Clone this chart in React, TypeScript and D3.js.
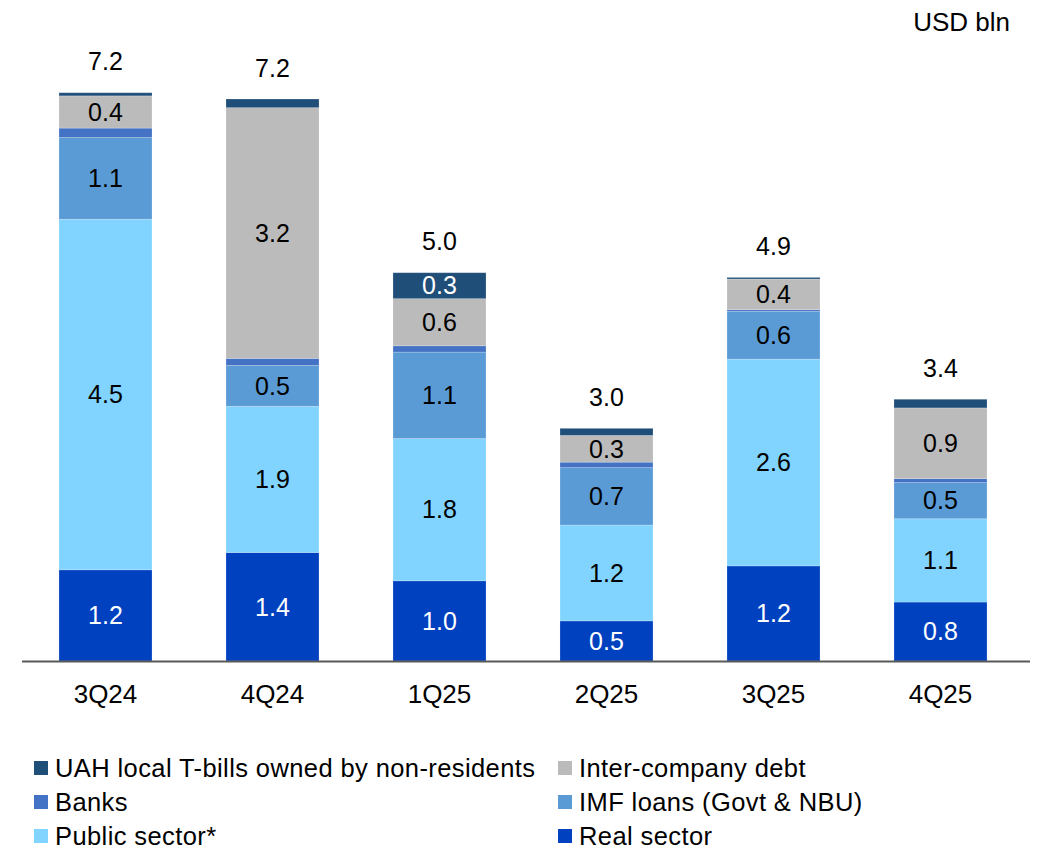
import React from "react";
import * as d3 from "d3";

const categories = ["3Q24", "4Q24", "1Q25", "2Q25", "3Q25", "4Q25"];

const realSector = [1.16, 1.38, 1.02, 0.51, 1.21, 0.75];
const publicSector = [4.46, 1.86, 1.81, 1.22, 2.63, 1.06];
const imfLoans = [1.04, 0.52, 1.1, 0.73, 0.61, 0.46];
const banks = [0.12, 0.09, 0.08, 0.07, 0.02, 0.05];
const interCompany = [0.41, 3.19, 0.6, 0.34, 0.39, 0.9];
const uahTbills = [0.04, 0.11, 0.33, 0.09, 0.02, 0.11];

const realLabels = ["1.2", "1.4", "1.0", "0.5", "1.2", "0.8"];
const publicLabels = ["4.5", "1.9", "1.8", "1.2", "2.6", "1.1"];
const imfLabels = ["1.1", "0.5", "1.1", "0.7", "0.6", "0.5"];
const bankLabels = [null, null, null, null, null, null];
const interLabels = ["0.4", "3.2", "0.6", "0.3", "0.4", "0.9"];
const uahLabels = [null, null, "0.3", null, null, null];
const totalLabels = ["7.2", "7.2", "5.0", "3.0", "4.9", "3.4"];

const seriesDefs = [
  { key: "real", name: "Real sector", values: realSector, labels: realLabels, color: "#0041C0", text: "#ffffff" },
  { key: "public", name: "Public sector*", values: publicSector, labels: publicLabels, color: "#80D4FF", text: "#000000" },
  { key: "imf", name: "IMF loans (Govt & NBU)", values: imfLoans, labels: imfLabels, color: "#5B9BD5", text: "#000000" },
  { key: "banks", name: "Banks", values: banks, labels: bankLabels, color: "#4472C4", text: "#000000" },
  { key: "inter", name: "Inter-company debt", values: interCompany, labels: interLabels, color: "#BBBBBB", text: "#000000" },
  { key: "uah", name: "UAH local T-bills owned by non-residents", values: uahTbills, labels: uahLabels, color: "#1F4E79", text: "#ffffff" },
];

const legendOrder = ["uah", "inter", "banks", "imf", "public", "real"];

const W = 1038;
const H = 852;
const FONT = "'Liberation Sans', Arial, sans-serif";

export default function App() {
  const x = d3.scaleBand<string>().domain(categories).range([22, 1024]).paddingInner(0.443).paddingOuter(0.2215);
  const y = d3.scaleLinear().domain([0, 8]).range([661, 661 - 8 * 78.6]);

  const table = categories.map((c, i) => {
    const row: any = { cat: c };
    seriesDefs.forEach((s) => (row[s.key] = s.values[i]));
    return row;
  });
  const stacked = d3.stack().keys(seriesDefs.map((s) => s.key))(table);
  const tops = categories.map((_, i) => d3.max(stacked, (layer) => layer[i][1]) as number);

  return (
    <svg width={W} height={H} style={{ position: "absolute", left: 0, top: 0, background: "#fff" }} fontFamily={FONT}>
      <text x={1010} y={22} dy="0.35em" textAnchor="end" fontSize={26} fill="#000">USD bln</text>
      {stacked.map((layer, li) => {
        const s = seriesDefs[li];
        return (
          <g key={s.key}>
            {layer.map((d, i) => (
              <rect
                key={i}
                x={x(categories[i])}
                width={x.bandwidth()}
                y={y(d[1])}
                height={Math.max(0, y(d[0]) - y(d[1]))}
                fill={s.color}
                stroke="#ffffff"
                strokeOpacity={0.25}
                strokeWidth={0.8}
              />
            ))}
          </g>
        );
      })}
      {stacked.map((layer, li) => {
        const s = seriesDefs[li];
        return (
          <g key={s.key + "-lab"}>
            {layer.map((d, i) =>
              s.labels[i] ? (
                <text
                  key={i}
                  x={(x(categories[i]) as number) + x.bandwidth() / 2}
                  y={(y(d[0]) + y(d[1])) / 2}
                  dy="0.35em"
                  textAnchor="middle"
                  fontSize={25}
                  fill={s.text}
                >
                  {s.labels[i]}
                </text>
              ) : null
            )}
          </g>
        );
      })}
      {categories.map((c, i) => (
        <text
          key={c + "-tot"}
          x={(x(c) as number) + x.bandwidth() / 2}
          y={y(tops[i]) - 31}
          dy="0.35em"
          textAnchor="middle"
          fontSize={25}
          fill="#000"
        >
          {totalLabels[i]}
        </text>
      ))}
      <line x1={22} x2={1030} y1={661.5} y2={661.5} stroke="#595959" strokeWidth={2} />
      {categories.map((c) => (
        <text
          key={c}
          x={(x(c) as number) + x.bandwidth() / 2}
          y={694}
          dy="0.35em"
          textAnchor="middle"
          fontSize={26}
          fill="#000"
        >
          {c}
        </text>
      ))}
      {legendOrder.map((k, idx) => {
        const s = seriesDefs.find((d) => d.key === k)!;
        const col = idx % 2;
        const row = Math.floor(idx / 2);
        const lx = col === 0 ? 34 : 558;
        const ly = 768 + row * 34;
        return (
          <g key={"leg-" + k}>
            <rect x={lx} y={ly - 7} width={14} height={14} fill={s.color} />
            <text x={lx + 21} y={ly} dy="0.35em" fontSize={25.5} letterSpacing={0.4} fill="#000">
              {s.name}
            </text>
          </g>
        );
      })}
    </svg>
  );
}
